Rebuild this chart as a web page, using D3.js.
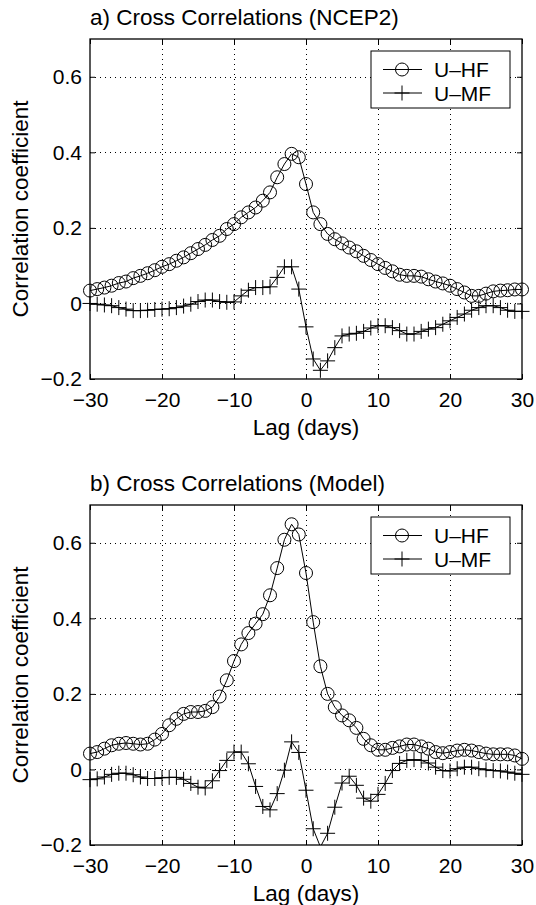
<!DOCTYPE html>
<html>
<head>
<meta charset="utf-8">
<script src="https://cdn.jsdelivr.net/npm/d3@7"></script>
<style>
  body { margin: 0; background: #fff; }
  text { font-family: "Liberation Sans", Arial, Helvetica, sans-serif; fill: #000; }
</style>
</head>
<body>
<div id="chart"></div>
<script>
var svgWidth = 536;
var svgHeight = 905;

// lag in days, one value per day
var lags = d3.range(-30, 31);

// a) NCEP2
var hfNcep = [0.034, 0.038, 0.042, 0.047, 0.054, 0.058, 0.067, 0.073, 0.080, 0.088,
  0.097, 0.104, 0.113, 0.122, 0.133, 0.144, 0.155, 0.168, 0.179, 0.197,
  0.210, 0.228, 0.241, 0.254, 0.272, 0.294, 0.334, 0.369, 0.396, 0.387,
  0.316, 0.241, 0.210, 0.184, 0.170, 0.159, 0.148, 0.138, 0.126, 0.115,
  0.104, 0.094, 0.085, 0.076, 0.073, 0.073, 0.071, 0.064, 0.058, 0.053,
  0.047, 0.038, 0.029, 0.020, 0.020, 0.026, 0.032, 0.034, 0.035, 0.037,
  0.037];
var mfNcep = [0.000, -0.002, -0.004, -0.006, -0.011, -0.015, -0.019, -0.019, -0.018, -0.016,
  -0.015, -0.014, -0.011, -0.007, -0.002, 0.005, 0.009, 0.009, 0.005, 0.003,
  0.004, 0.020, 0.035, 0.042, 0.042, 0.044, 0.069, 0.097, 0.097, 0.038,
  -0.062, -0.147, -0.177, -0.152, -0.117, -0.086, -0.081, -0.079, -0.074, -0.065,
  -0.059, -0.059, -0.064, -0.072, -0.081, -0.081, -0.074, -0.068, -0.064, -0.055,
  -0.046, -0.037, -0.028, -0.018, -0.011, -0.006, -0.006, -0.011, -0.018, -0.021,
  -0.021];

// b) Model
var hfModel = [0.042, 0.046, 0.055, 0.064, 0.068, 0.070, 0.068, 0.066, 0.068, 0.079,
  0.094, 0.117, 0.134, 0.147, 0.152, 0.152, 0.155, 0.165, 0.193, 0.236,
  0.287, 0.331, 0.361, 0.386, 0.411, 0.461, 0.533, 0.608, 0.649, 0.622,
  0.520, 0.390, 0.273, 0.200, 0.165, 0.143, 0.130, 0.110, 0.081, 0.064,
  0.052, 0.052, 0.057, 0.061, 0.066, 0.066, 0.061, 0.055, 0.046, 0.043,
  0.046, 0.050, 0.052, 0.050, 0.046, 0.042, 0.040, 0.040, 0.040, 0.037,
  0.028];
var mfModel = [-0.027, -0.025, -0.020, -0.013, -0.010, -0.010, -0.014, -0.020, -0.024, -0.024,
  -0.022, -0.021, -0.021, -0.026, -0.037, -0.047, -0.049, -0.030, -0.003, 0.024,
  0.046, 0.046, 0.015, -0.045, -0.098, -0.107, -0.064, -0.002, 0.073, 0.045,
  -0.055, -0.157, -0.205, -0.169, -0.100, -0.036, -0.018, -0.042, -0.076, -0.084,
  -0.066, -0.037, -0.003, 0.016, 0.024, 0.026, 0.024, 0.017, 0.006, -0.003,
  -0.004, 0.002, 0.006, 0.006, 0.002, -0.001, -0.003, -0.004, -0.007, -0.010,
  -0.013];

var xTicks = [-30, -20, -10, 0, 10, 20, 30];
var xTickLabels = ["\u221230", "\u221220", "\u221210", "0", "10", "20", "30"];
var yTicks = [-0.2, 0, 0.2, 0.4, 0.6];
var yTickLabels = ["\u22120.2", "0", "0.2", "0.4", "0.6"];
var seriesNames = ["U\u2013HF", "U\u2013MF"];

var margin = { left: 90, right: 14 };
var width = svgWidth - margin.left - margin.right;
var height = 340;
var fontSize = 21;
var labelSize = 22.5;   // title / axis labels a bit bigger, like matlab

var svg = d3.select("#chart")
  .append("svg")
  .attr("width", svgWidth)
  .attr("height", svgHeight);

var xScale = d3.scaleLinear().domain([-30, 30]).range([0, width]);
var yScale = d3.scaleLinear().domain([-0.2, 0.7]).range([height, 0]);

function plusPath(s) {
  return "M" + (-s) + ",0H" + s + "M0," + (-s) + "V" + s;
}

function drawPanel(top, id, title, hf, mf) {
  var g = svg.append("g")
    .attr("transform", "translate(" + margin.left + "," + top + ")");

  g.append("clipPath").attr("id", "clip" + id)
    .append("rect").attr("width", width).attr("height", height);

  // dotted grid
  var grid = g.append("g")
    .attr("stroke", "#000")
    .attr("stroke-width", 1)
    .attr("stroke-dasharray", "1,4");
  grid.selectAll(".gx").data(xTicks.slice(1, -1)).enter().append("line")
    .attr("x1", function(d) { return Math.round(xScale(d)) + 0.5; })
    .attr("x2", function(d) { return Math.round(xScale(d)) + 0.5; })
    .attr("y1", 0).attr("y2", height);
  grid.selectAll(".gy").data(yTicks.slice(1)).enter().append("line")
    .attr("y1", function(d) { return Math.round(yScale(d)) + 0.5; })
    .attr("y2", function(d) { return Math.round(yScale(d)) + 0.5; })
    .attr("x1", 0).attr("x2", width);

  // axes, ticks inside like matlab
  var bottomAxis = d3.axisBottom(xScale).tickValues(xTicks)
    .tickSizeInner(-5).tickSizeOuter(0).tickPadding(13)
    .tickFormat(function(d, i) { return xTickLabels[i]; });
  var leftAxis = d3.axisLeft(yScale).tickValues(yTicks)
    .tickSizeInner(-5).tickSizeOuter(0).tickPadding(8)
    .tickFormat(function(d, i) { return yTickLabels[i]; });
  var topAxis = d3.axisTop(xScale).tickValues(xTicks)
    .tickSizeInner(-5).tickSizeOuter(0).tickFormat("");
  var rightAxis = d3.axisRight(yScale).tickValues(yTicks)
    .tickSizeInner(-5).tickSizeOuter(0).tickFormat("");

  var axes = [
    g.append("g").attr("transform", "translate(0," + height + ")").call(bottomAxis),
    g.append("g").call(leftAxis),
    g.append("g").call(topAxis),
    g.append("g").attr("transform", "translate(" + width + ",0)").call(rightAxis)
  ];
  axes.forEach(function(a) {
    a.select(".domain").remove();
    a.selectAll("line").attr("stroke", "#000");
    a.selectAll("text")
      .style("font-size", fontSize + "px")
      .style("font-family", '"Liberation Sans", Arial, sans-serif')
      .attr("fill", "#000");
  });

  // box
  g.append("rect")
    .attr("x", 0).attr("y", 0)
    .attr("width", width).attr("height", height)
    .attr("fill", "none")
    .attr("stroke", "#000")
    .attr("stroke-width", 1.3);

  var line = d3.line()
    .x(function(d, i) { return xScale(lags[i]); })
    .y(function(d) { return yScale(d); });

  var plot = g.append("g").attr("clip-path", "url(#clip" + id + ")");

  [hf, mf].forEach(function(series) {
    plot.append("path")
      .datum(series)
      .attr("d", line)
      .attr("fill", "none")
      .attr("stroke", "#000")
      .attr("stroke-width", 1);
  });

  // markers outside the axes are not drawn
  function inside(d) { return d >= -0.2 && d <= 0.7; }

  g.append("g").selectAll("circle")
    .data(hf.map(function(v, i) { return { lag: lags[i], v: v }; }).filter(function(d) { return inside(d.v); }))
    .enter().append("circle")
    .attr("cx", function(d) { return xScale(d.lag); })
    .attr("cy", function(d) { return yScale(d.v); })
    .attr("r", 6.5)
    .attr("fill", "none")
    .attr("stroke", "#000")
    .attr("stroke-width", 1);

  g.append("g").selectAll("path")
    .data(mf.map(function(v, i) { return { lag: lags[i], v: v }; }).filter(function(d) { return inside(d.v); }))
    .enter().append("path")
    .attr("transform", function(d) { return "translate(" + xScale(d.lag) + "," + yScale(d.v) + ")"; })
    .attr("d", plusPath(7.5))
    .attr("stroke", "#000")
    .attr("stroke-width", 1);

  // legend
  var lg = g.append("g").attr("transform", "translate(281,12)");
  lg.append("rect")
    .attr("width", 139).attr("height", 57)
    .attr("fill", "#fff")
    .attr("stroke", "#000")
    .attr("stroke-width", 1);
  [18.5, 42].forEach(function(yy, i) {
    lg.append("line")
      .attr("x1", 12).attr("x2", 51)
      .attr("y1", yy).attr("y2", yy)
      .attr("stroke", "#000");
    if (i === 0) {
      lg.append("circle").attr("cx", 31).attr("cy", yy).attr("r", 6.5)
        .attr("fill", "none").attr("stroke", "#000");
    } else {
      lg.append("path").attr("transform", "translate(31," + yy + ")")
        .attr("d", plusPath(7.5)).attr("stroke", "#000");
    }
    lg.append("text")
      .attr("x", 63).attr("y", yy)
      .attr("dy", "0.36em")
      .style("font-size", fontSize + "px")
      .text(seriesNames[i]);
  });

  // title and axis labels
  g.append("text")
    .attr("x", 0).attr("y", -14.5)
    .style("font-size", labelSize + "px")
    .text(title);

  g.append("text")
    .attr("x", width / 2).attr("y", height + 56)
    .attr("text-anchor", "middle")
    .style("font-size", labelSize + "px")
    .text("Lag (days)");

  g.append("text")
    .attr("transform", "translate(" + (28 - margin.left) + "," + (height / 2) + ") rotate(-90)")
    .attr("text-anchor", "middle")
    .style("font-size", labelSize + "px")
    .text("Correlation coefficient");
}

drawPanel(39, "a", "a) Cross Correlations (NCEP2)", hfNcep, mfNcep);
drawPanel(505, "b", "b) Cross Correlations (Model)", hfModel, mfModel);
</script>
</body>
</html>
